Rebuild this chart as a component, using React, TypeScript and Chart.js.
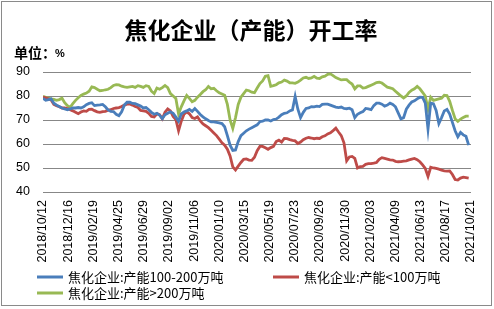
import React, { useEffect, useRef } from "react";
import { Chart, registerables } from "chart.js";

Chart.register(...registerables);

const TITLE = "焦化企业（产能）开工率";
const UNIT_LABEL = "单位：";
const UNIT = "%";
const START_DATE = "2018/10/12";

const SERIES_NAMES = [
  "焦化企业:产能100-200万吨",
  "焦化企业:产能<100万吨",
  "焦化企业:产能>200万吨",
];
const SERIES_COLORS = ["#4A7EBB", "#BE4B48", "#98B954"];

const X_TICK_LABELS = [
  "2018/10/12", "2018/12/16", "2019/02/19", "2019/04/25", "2019/06/29", "2019/09/02",
  "2019/11/06", "2020/01/10", "2020/03/15", "2020/05/19", "2020/07/23", "2020/09/26",
  "2020/11/30", "2021/02/03", "2021/04/09", "2021/06/13", "2021/08/17", "2021/10/21",
];
const Y_MIN = 40;
const Y_MAX = 90;
const Y_STEP = 5;

// weekly values, first week = 2018/10/12
const CAP_100_200 = [
  79.0, 78.2, 78.5, 78.8, 77.0, 76.2, 75.6, 75.0, 74.6, 74.3,
  74.6, 75.0, 75.0, 75.2, 75.0, 75.5, 76.4, 76.9, 77.2, 76.0,
  76.2, 76.3, 76.5, 75.5, 74.2, 73.6, 73.5, 72.4, 71.8, 73.4,
  76.2, 77.4, 77.4, 76.9, 76.8, 76.3, 75.8, 75.0, 75.2, 74.3,
  73.2, 72.4, 72.8, 72.0, 70.6, 72.2, 72.8, 73.4, 72.8, 71.2,
  69.5, 72.5, 73.3, 73.8, 74.4, 73.6, 74.8, 73.6, 72.3, 71.3,
  70.5, 69.8, 69.2, 69.2, 69.0, 68.8, 68.5, 67.2, 63.5, 59.5,
  57.3, 57.5, 61.0, 63.5, 64.5, 65.5, 66.2, 66.8, 67.4, 68.0,
  69.3, 69.5, 70.0, 70.0, 69.6, 70.2, 70.4, 71.2, 72.2, 72.8,
  73.0, 73.8, 74.2, 79.8, 74.5, 71.0, 73.2, 74.8, 75.0, 75.6,
  75.5, 75.8, 75.6, 76.5, 76.6, 76.6, 76.2, 75.8, 75.4, 75.2,
  75.4, 74.8, 74.7, 74.9, 74.3, 71.0, 72.4, 73.0, 73.5, 74.8,
  74.6, 74.3, 76.0, 77.0, 77.0, 76.6, 75.8, 76.2, 77.0, 76.5,
  75.5, 73.0, 70.5, 71.0, 74.5, 76.2, 77.5, 78.0, 78.8, 79.5,
  79.4, 77.0, 66.2, 77.0, 76.8, 74.0, 68.5, 71.0, 73.8, 74.4,
  72.5, 69.0, 65.5, 63.0, 64.8, 63.8, 63.2, 59.5,
];

const CAP_UNDER_100 = [
  79.5, 79.2, 78.8, 78.3, 76.5, 76.0, 75.5, 75.0, 75.0, 74.8,
  74.3, 73.8, 73.2, 72.6, 73.3, 73.8, 73.6, 74.4, 74.5, 73.9,
  73.4, 73.2, 73.5, 73.6, 74.1, 74.3, 74.8, 75.0, 75.2, 75.6,
  76.2, 76.6, 76.7, 76.2, 75.6, 75.2, 74.0, 73.8, 73.6, 72.8,
  71.5, 71.3, 72.6, 72.2, 70.5, 73.2, 74.6, 73.8, 71.5, 70.2,
  65.5, 69.5, 72.4, 73.4, 72.6, 71.0, 70.6, 71.3, 69.6, 68.4,
  67.6, 66.8, 65.7, 64.6, 63.5, 62.0, 60.5, 59.5, 57.8, 55.0,
  50.5, 49.2, 50.8, 52.3, 53.6, 53.8, 53.3, 53.2, 54.5, 57.2,
  59.0, 59.0, 58.4, 57.8, 58.5, 59.0, 61.0, 61.6, 60.8, 62.3,
  62.2, 61.8, 61.5, 61.3, 60.2, 60.8, 61.8, 62.4, 62.7, 62.5,
  62.2, 62.4, 62.3, 63.0, 63.4, 64.2, 64.7, 65.6, 66.6, 65.0,
  63.5, 60.5, 53.0, 54.6, 54.8, 54.0, 50.0, 50.6, 50.7, 51.5,
  51.8, 51.8, 52.0, 52.3, 53.6, 54.3, 54.0, 53.7, 53.4, 53.3,
  52.8, 52.6, 52.7, 52.9, 53.0, 53.4, 53.7, 54.0, 53.5, 52.6,
  51.3, 49.8, 46.5, 50.3, 50.0, 49.8, 49.5, 49.1, 48.8, 48.7,
  48.8, 47.3, 45.2, 45.0, 45.8, 46.2, 46.0, 45.8,
];

const CAP_OVER_200 = [
  79.9, 79.5, 79.1, 78.8, 78.6, 78.2, 78.5, 79.1, 77.2, 76.0,
  75.3, 76.8, 78.2, 79.3, 80.2, 80.8, 81.2, 82.0, 83.8, 83.5,
  82.8, 82.2, 82.3, 82.6, 82.8, 83.5, 84.4, 84.7, 84.6, 84.1,
  83.8, 83.6, 83.8, 84.0, 83.6, 84.3, 84.0, 83.6, 84.3, 84.0,
  82.0, 81.0, 83.3, 82.8, 83.5, 84.4, 83.5, 81.0, 80.0, 79.0,
  72.5, 75.5, 78.0, 80.2, 79.0, 77.6, 78.2, 79.5, 80.6, 81.8,
  82.6, 84.0, 83.0, 83.2, 82.2, 81.3, 80.8, 80.3, 76.5, 70.0,
  66.5, 71.0, 76.5, 79.5, 81.0, 82.5, 82.2, 81.6, 81.4, 83.3,
  85.2, 86.3, 88.2, 88.5, 84.0, 84.3, 84.7, 85.5, 85.8, 86.6,
  86.2, 85.5, 85.5, 85.3, 85.8, 86.6, 87.5, 87.8, 87.3, 87.5,
  88.2, 87.4, 87.3, 88.0, 88.3, 89.0, 89.2, 88.5, 87.7, 87.2,
  86.7, 86.8, 86.8, 85.8, 85.0, 83.0, 84.2, 84.2, 83.3, 83.5,
  84.0, 84.5, 85.0, 85.6, 85.8, 85.4, 84.5, 83.7, 83.4, 83.0,
  82.0, 81.0, 80.0, 79.2, 80.0, 81.5, 82.4, 83.0, 84.0, 83.0,
  81.5, 80.0, 74.5, 79.5, 78.2, 78.5, 78.8, 79.1, 80.3, 80.2,
  77.8, 74.0, 70.5, 69.4, 70.4, 71.0, 71.6, 71.6,
];

const SERIES_VALUES = [CAP_100_200, CAP_UNDER_100, CAP_OVER_200];

function dayOf(s: string): number {
  const [y, m, d] = s.split("/").map(Number);
  const [y0, m0, d0] = START_DATE.split("/").map(Number);
  return Math.round((Date.UTC(y, m - 1, d) - Date.UTC(y0, m0 - 1, d0)) / 864e5);
}

// weekly observation dates (day offsets from START_DATE)
const WEEK_DAYS = CAP_100_200.map((_, i) => i * 7);
const X_TICK_DAYS = X_TICK_LABELS.map(dayOf);

const LEGEND_SLOTS = [
  { x: 37, y: 277 },
  { x: 273, y: 277 },
  { x: 37, y: 293 },
];

const decorPlugin = {
  id: "decor",
  afterDraw(chart: any) {
    const ctx = chart.ctx as CanvasRenderingContext2D;
    ctx.save();
    // outer frame
    ctx.strokeStyle = "#8a8a8a";
    ctx.lineWidth = 1;
    ctx.strokeRect(1.5, 1.5, 490, 304);
    // title
    ctx.fillStyle = "#000";
    ctx.textBaseline = "middle";
    ctx.textAlign = "center";
    ctx.font = 'bold 23px "Noto Sans CJK SC"';
    ctx.fillText(TITLE, 251, 30);
    // unit
    ctx.textAlign = "left";
    ctx.font = 'bold 14px "Noto Sans CJK SC"';
    ctx.fillText(UNIT_LABEL, 14, 53);
    ctx.font = 'bold 11px "Liberation Sans"';
    ctx.fillText(UNIT, 55, 54);
    // legend
    chart.data.datasets.forEach((ds: any, i: number) => {
      const slot = LEGEND_SLOTS[i];
      ctx.strokeStyle = ds.borderColor;
      ctx.lineWidth = 3;
      ctx.beginPath();
      ctx.moveTo(slot.x, slot.y);
      ctx.lineTo(slot.x + 26, slot.y);
      ctx.stroke();
      ctx.fillStyle = "#000";
      ctx.font = '13px "Noto Sans CJK SC"';
      ctx.textBaseline = "middle";
      ctx.fillText(ds.label, slot.x + 31, slot.y);
    });
    ctx.restore();
  },
};

export default function App() {
  const canvasRef = useRef<HTMLCanvasElement | null>(null);

  useEffect(() => {
    const canvas = canvasRef.current;
    if (!canvas) return;
    const chart = new Chart(canvas, {
      type: "line",
      data: {
        datasets: SERIES_VALUES.map((vals, i) => ({
          label: SERIES_NAMES[i],
          data: vals.map((v, k) => ({ x: WEEK_DAYS[k], y: v })),
          borderColor: SERIES_COLORS[i],
          backgroundColor: SERIES_COLORS[i],
          borderWidth: 2.8,
          pointRadius: 0,
          tension: 0,
          fill: false,
        })),
      },
      options: {
        animation: false,
        responsive: false,
        devicePixelRatio: 1,
        layout: { padding: { left: 0, right: 17, top: 72, bottom: 45 } },
        plugins: {
          legend: { display: false },
          title: { display: false },
          tooltip: { enabled: false },
        },
        scales: {
          x: {
            type: "linear",
            min: 0,
            max: X_TICK_DAYS[X_TICK_DAYS.length - 1],
            grid: { display: false, drawTicks: false },
            border: { display: false },
            afterBuildTicks: (scale: any) => {
              scale.ticks = X_TICK_DAYS.map((v) => ({ value: v }));
            },
            afterFit: (scale: any) => {
              scale.height = 72;
            },
            ticks: {
              autoSkip: false,
              minRotation: 90,
              maxRotation: 90,
              padding: 8,
              color: "#000",
              font: { family: '"Liberation Sans"', size: 12.5 },
              callback: (_v: any, idx: number) => X_TICK_LABELS[idx],
            },
          },
          y: {
            min: Y_MIN,
            max: Y_MAX,
            grid: { color: "#878787", lineWidth: 1, drawTicks: false },
            border: { display: false },
            afterFit: (scale: any) => {
              scale.width = 43;
            },
            ticks: {
              stepSize: Y_STEP,
              padding: 13,
              color: "#000",
              font: { family: '"Liberation Sans"', size: 12.5 },
            },
          },
        },
      },
      plugins: [decorPlugin],
    });
    return () => chart.destroy();
  }, []);

  return (
    <div
      style={{
        position: "absolute",
        left: 0,
        top: 0,
        width: 494,
        height: 309,
        background: "#fff",
      }}
    >
      <canvas ref={canvasRef} width={494} height={309} style={{ width: 494, height: 309 }} />
    </div>
  );
}
